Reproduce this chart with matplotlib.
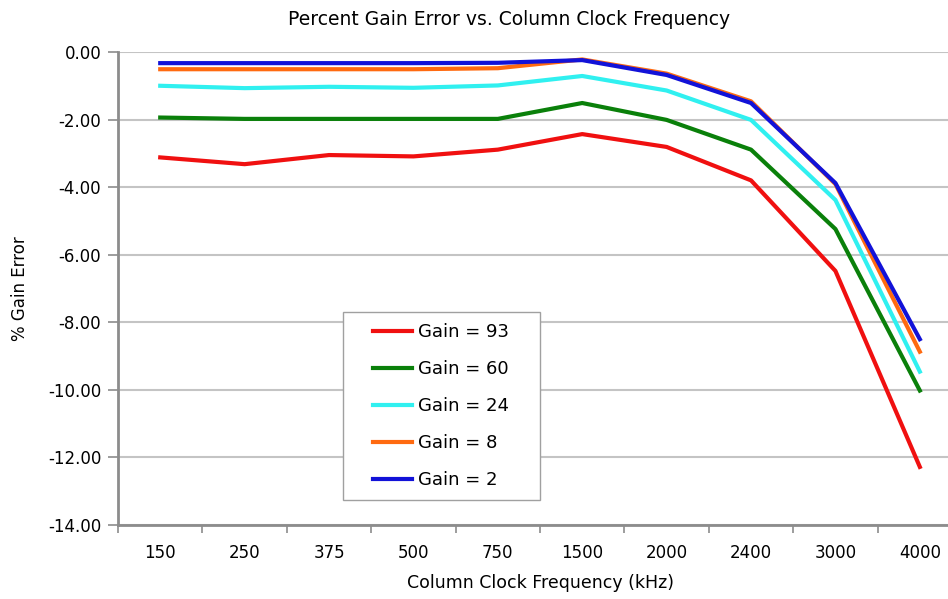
import numpy as np
import matplotlib.pyplot as plt
from matplotlib.patches import Rectangle

plt.rcParams['font.family'] = ['DejaVu Sans']

# Column clock frequency categories [kHz]
freqs = ['150', '250', '375', '500', '750', '1500', '2000', '2400', '3000', '4000']

# Percent gain error for each gain setting
gain_93 = [-3.12, -3.32, -3.05, -3.09, -2.89, -2.43, -2.81, -3.80, -6.48, -12.28]
gain_60 = [-1.94, -1.98, -1.98, -1.98, -1.98, -1.51, -2.01, -2.89, -5.24, -10.02]
gain_24 = [-1.00, -1.07, -1.03, -1.06, -0.99, -0.71, -1.14, -2.01, -4.38, -9.46]
gain_8 = [-0.51, -0.51, -0.51, -0.51, -0.48, -0.22, -0.64, -1.46, -3.91, -8.87]
gain_2 = [-0.33, -0.33, -0.33, -0.33, -0.32, -0.24, -0.68, -1.51, -3.88, -8.50]

series = [
    ('Gain = 93', gain_93, '#f01010'),
    ('Gain = 60', gain_60, '#0a800a'),
    ('Gain = 24', gain_24, '#30f0f0'),
    ('Gain = 8', gain_8, '#ff6a10'),
    ('Gain = 2', gain_2, '#1212d8'),
]

fig = plt.figure(figsize=(9.48, 5.99), dpi=100)
# plot area runs a bit past the right edge of the picture, as in the original
ax = fig.add_axes([0.1245, 0.1235, 0.8903, 0.7897])

x = np.arange(len(freqs))
for label, vals, color in series:
    ax.plot(x, vals, color=color, lw=3, label=label)

ax.set_xlim(-0.5, len(freqs) - 0.5)
ax.set_ylim(-14, 0)
yt = np.arange(-14, 0.1, 2)
ax.set_yticks(yt)
ax.set_yticklabels(['%.2f' % v for v in yt])
ax.yaxis.grid(True, color='#c4c4c4', lw=1.5)
ax.set_axisbelow(True)

ax.set_xticks(x)
ax.set_xticklabels(freqs)
ax.set_xticks(np.arange(-0.5, len(freqs)), minor=True)
ax.tick_params(axis='x', which='major', length=0, pad=14, labelsize=12)
ax.tick_params(axis='x', which='minor', length=6, color='#8c8c8c', width=1.2)
ax.tick_params(axis='y', length=7, color='#8c8c8c', width=1.2, labelsize=12, pad=5)

for side in ['top', 'right']:
    ax.spines[side].set_visible(False)
for side in ['left', 'bottom']:
    ax.spines[side].set_color('#8c8c8c')
    ax.spines[side].set_linewidth(2)

fig.text(0.537, 0.968, 'Percent Gain Error vs. Column Clock Frequency',
         fontsize=13.5, ha='center', va='center')
ax.set_xlabel('Column Clock Frequency (kHz)', fontsize=12.5, labelpad=8)
ax.set_ylabel('% Gain Error', fontsize=12, labelpad=14)

leg = ax.legend(loc='upper left', bbox_to_anchor=(0.279, 0.469), fontsize=13,
                frameon=False, handlelength=2.16, handletextpad=0.3,
                labelspacing=1.05, borderpad=0.6)
leg.set_zorder(5)

# legend frame: wider side padding than matplotlib's borderpad allows
fig.canvas.draw()
bb = leg.get_window_extent()
padx = 20
frame = Rectangle((bb.x0 - padx, bb.y0), bb.width + 2 * padx, bb.height,
                  transform=None, facecolor='white', edgecolor='#a0a0a0',
                  lw=1.0, zorder=4)
ax.add_artist(frame)

fig.savefig('out.png', dpi=100)
